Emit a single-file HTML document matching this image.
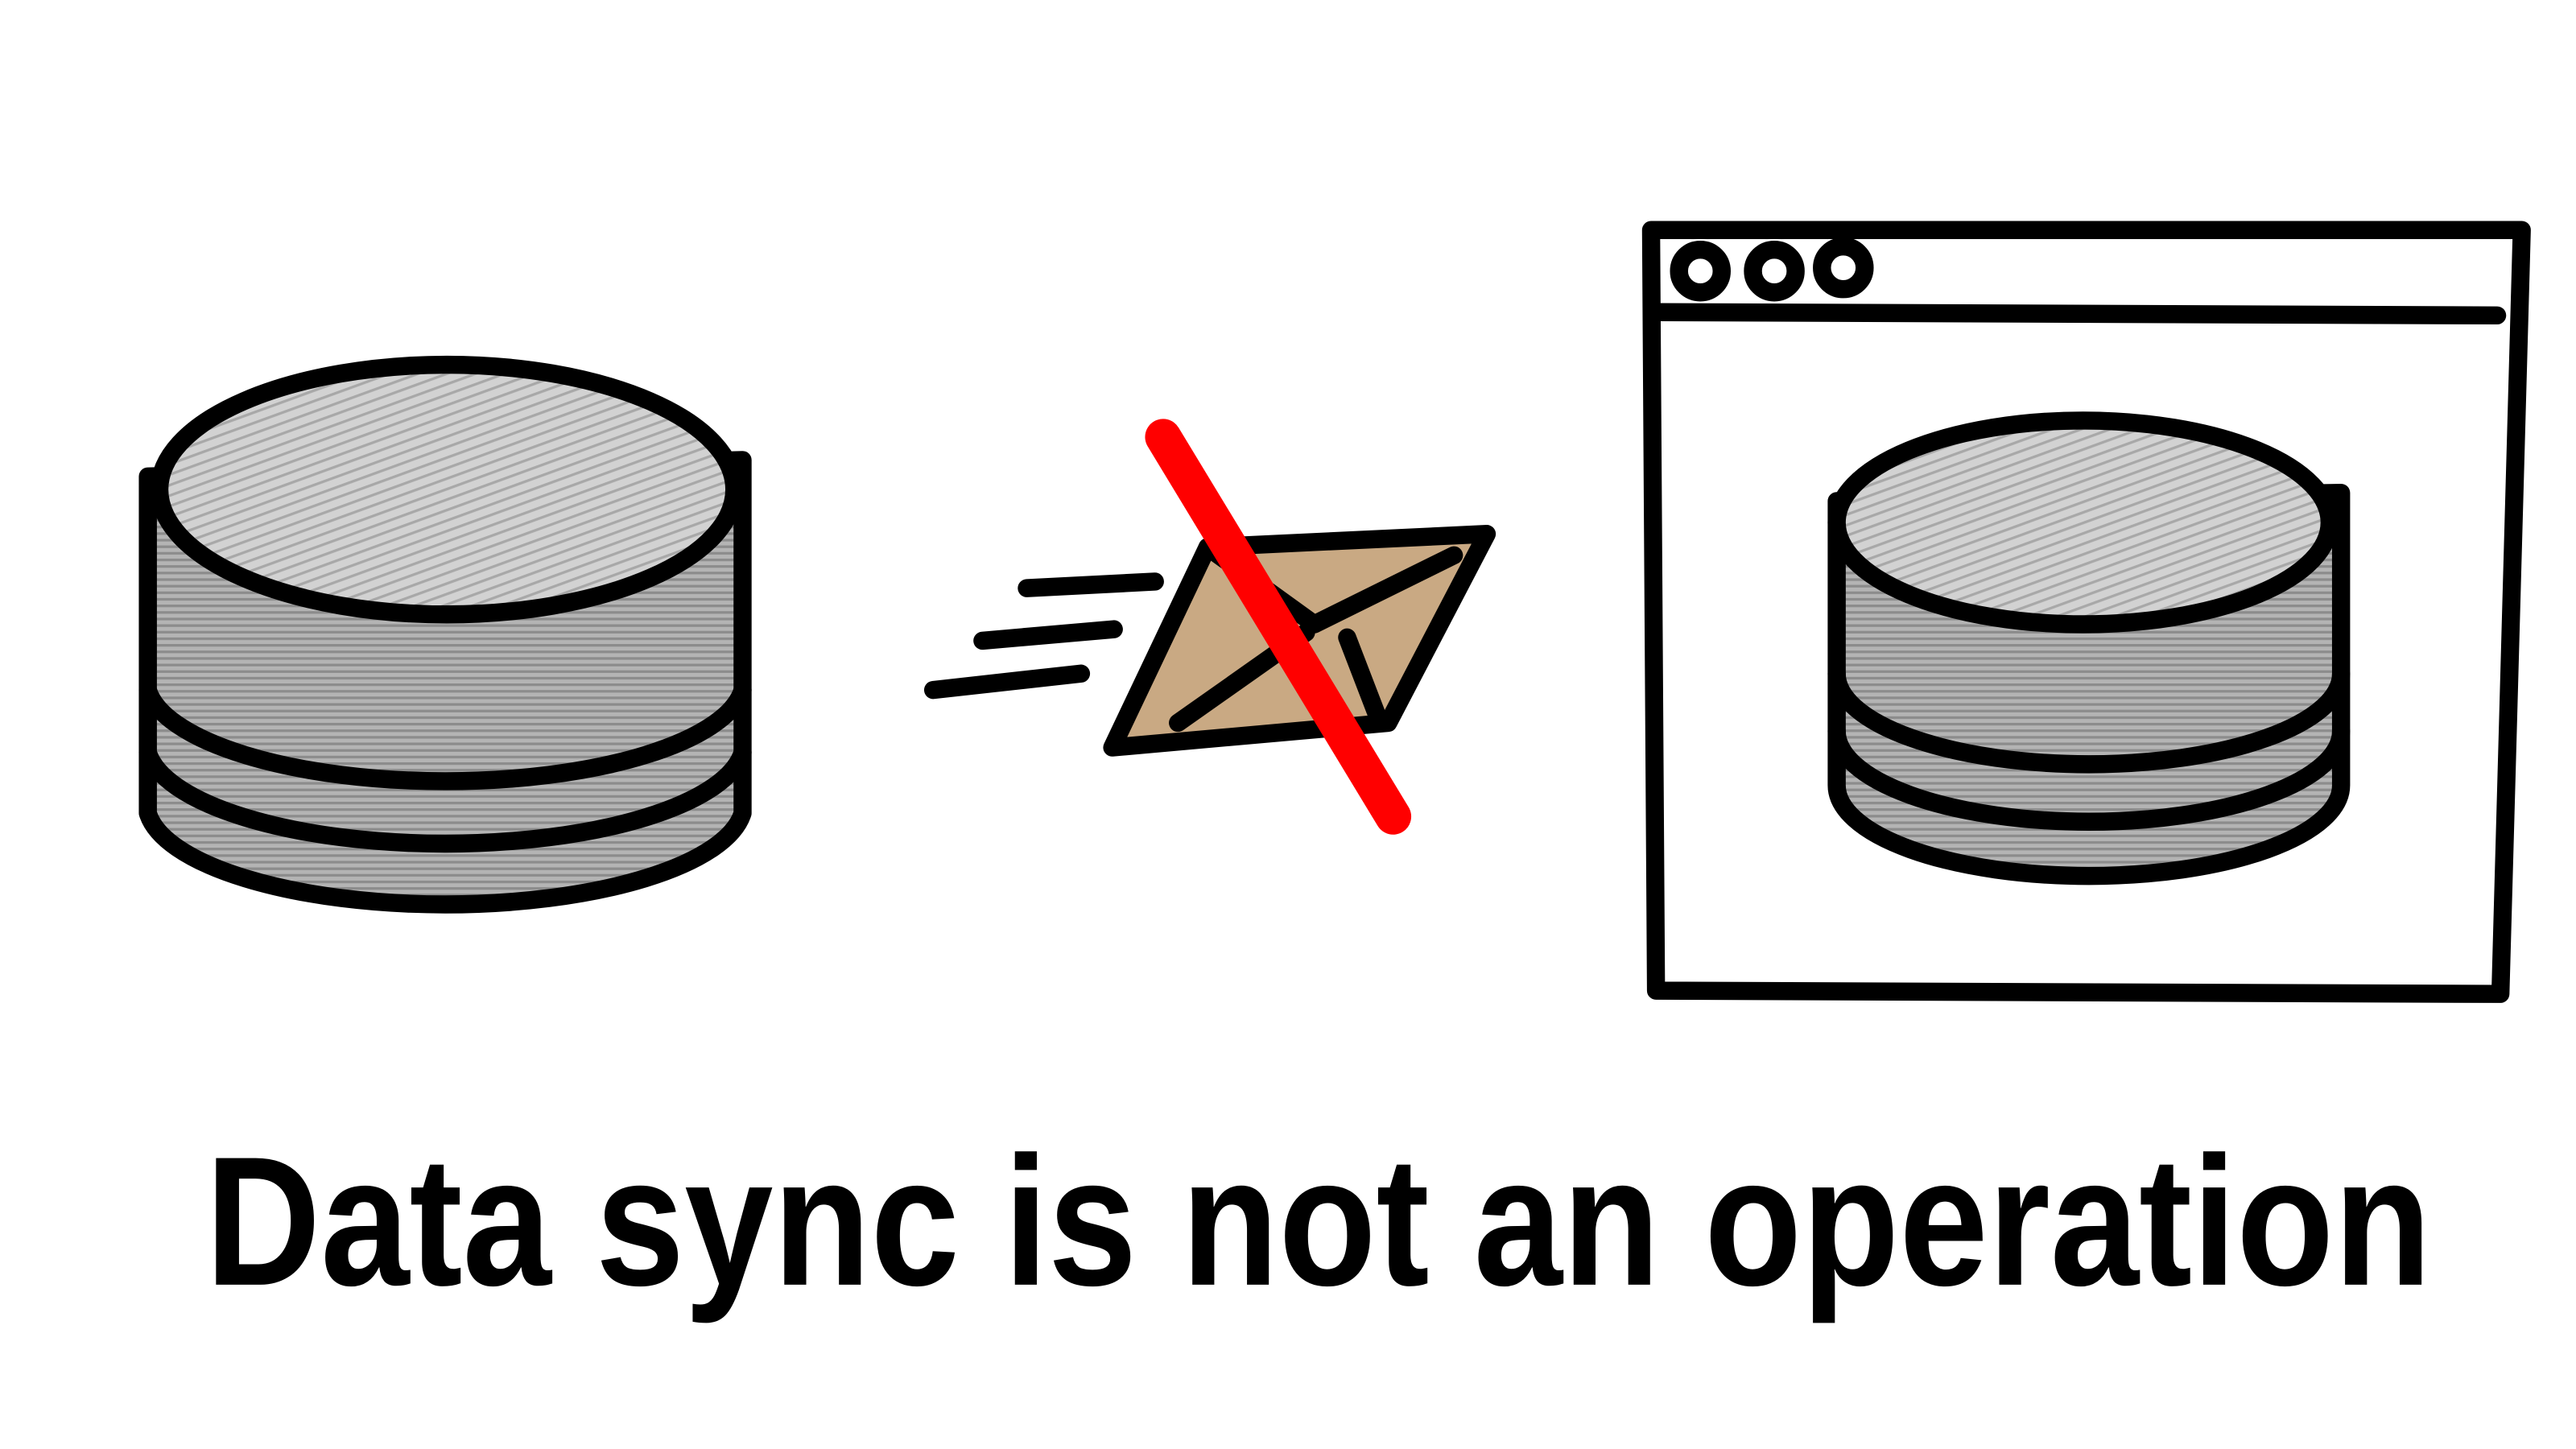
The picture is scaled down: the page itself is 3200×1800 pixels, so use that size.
<!DOCTYPE html>
<html><head><meta charset="utf-8"><style>
html,body{margin:0;padding:0;background:#fff}
svg{display:block}
</style></head><body>
<svg width="3200" height="1800" viewBox="0 0 1568 882" xmlns="http://www.w3.org/2000/svg">
<defs>
<pattern id="hb" width="8" height="4" patternUnits="userSpaceOnUse">
<rect width="8" height="4" fill="#b4b4b4"/><rect y="0" width="8" height="1.6" fill="#8c8c8c"/></pattern>
<pattern id="ht" width="6" height="6" patternUnits="userSpaceOnUse" patternTransform="rotate(-20)">
<rect width="6" height="6" fill="#d2d2d2"/><rect width="6" height="1.6" fill="#a8a8a8"/></pattern>
</defs>
<g fill="none" stroke="#000" stroke-width="11" stroke-linecap="round" stroke-linejoin="round">
<!-- left DB -->
<path d="M90,290 L90,495 A182,62 0 0 0 452,495 L452,280 Z" fill="url(#hb)"/>
<path d="M90,420 A182,62 0 0 0 452,420"/>
<path d="M90,458 A182,62 0 0 0 452,458"/>
<ellipse cx="272" cy="298" rx="175" ry="76" fill="url(#ht)"/>
<!-- speed lines -->
<line x1="625" y1="358" x2="703" y2="354"/>
<line x1="598" y1="390" x2="678" y2="383"/>
<line x1="568" y1="420" x2="658" y2="410"/>
<!-- envelope -->
<path d="M677,455 L735,333 L905,325 L845,440 Z" fill="#c9a983"/>
<path d="M735,333 L800,380 L885,338"/>
<path d="M717,440 L795,385 M820,388 L840,440"/>
<!-- browser -->
<path d="M1005,140 L1535,140 L1522,605 L1008,603 Z"/>
<line x1="1008" y1="190" x2="1520" y2="192"/>
<circle cx="1035" cy="165" r="13"/>
<circle cx="1080" cy="165" r="13"/>
<circle cx="1122" cy="163" r="13"/>
<!-- right DB -->
<path d="M1118,305 L1118,478 A153,55 0 0 0 1425,478 L1425,300 Z" fill="url(#hb)"/>
<path d="M1118,410 A153,55 0 0 0 1425,410"/>
<path d="M1118,445 A153,55 0 0 0 1425,445"/>
<ellipse cx="1268" cy="318" rx="150" ry="62" fill="url(#ht)"/>
</g>
<line x1="708" y1="266" x2="848" y2="497" stroke="#ff0000" stroke-width="22" stroke-linecap="round"/>
<text x="125" y="782" font-family="'Liberation Sans',sans-serif" font-weight="bold" font-size="112" textLength="1355" lengthAdjust="spacingAndGlyphs" fill="#000">Data sync is not an operation</text>
</svg>
</body></html>
